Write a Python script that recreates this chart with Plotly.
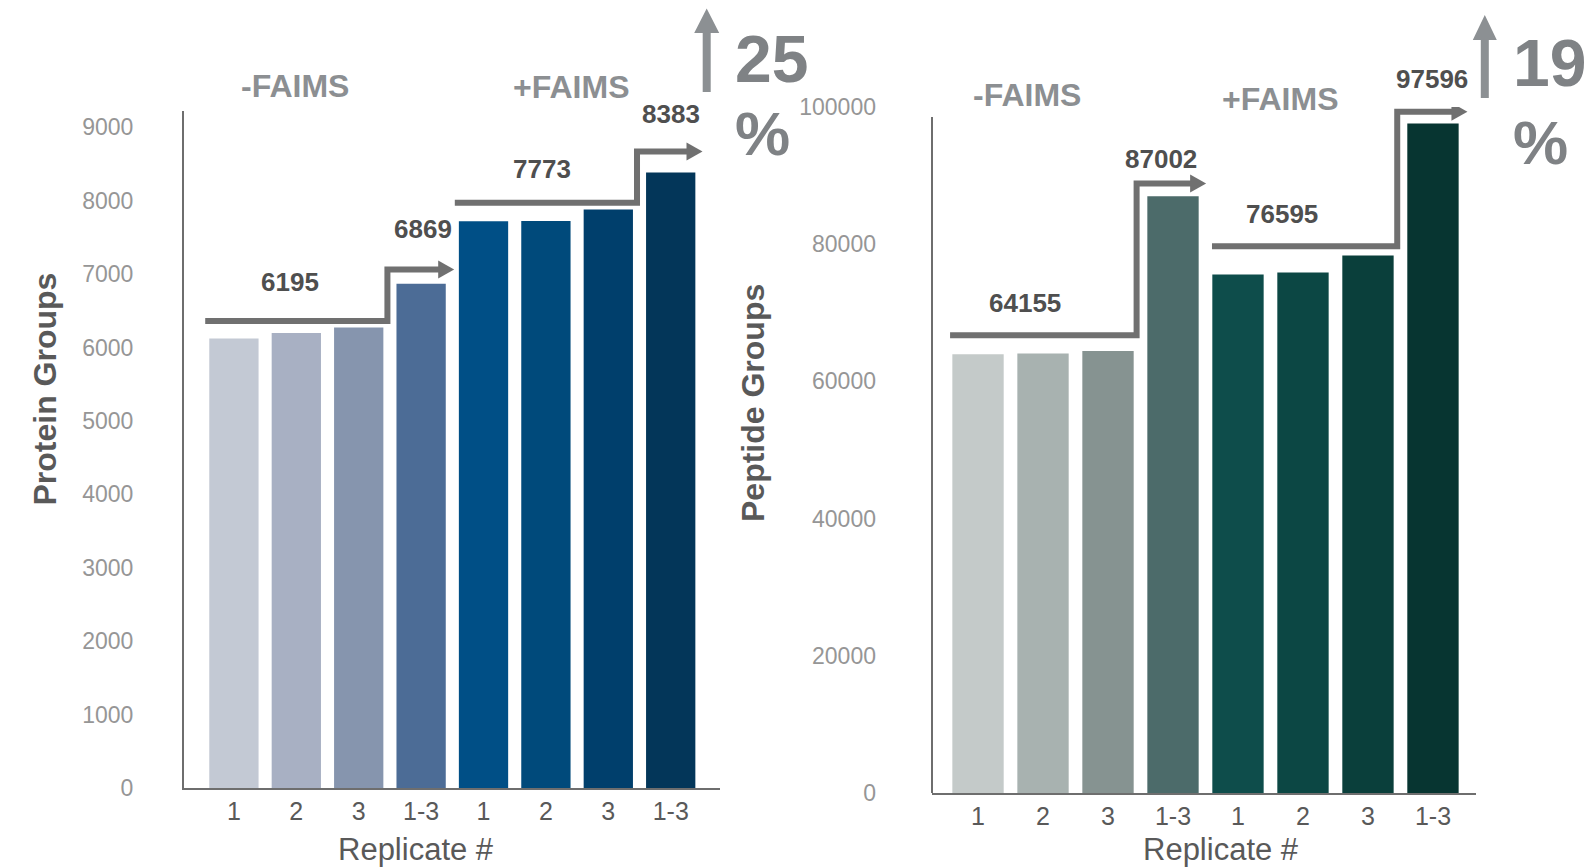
import plotly.graph_objects as go

# ---------------- data ----------------
tick_labels = ["1", "2", "3", "1-3", "1", "2", "3", "1-3"]
protein_groups = [6120, 6195, 6270, 6869, 7720, 7722, 7877, 8383]
peptide_groups = [63950, 64080, 64435, 87002, 75570, 75860, 78355, 97596]

protein_colors = ["#c3c9d4", "#a8b0c3", "#8695ae", "#4c6c96",
                  "#004f86", "#004a7b", "#003f6c", "#033659"]
peptide_colors = ["#c4cac9", "#a8b2b0", "#869391", "#4c6b6a",
                  "#0e4d4b", "#0c4744", "#0a3f3b", "#073531"]

protein_summary = ["6195", "6869", "7773", "8383"]
peptide_summary = ["64155", "87002", "76595", "97596"]
protein_increase = "25"
peptide_increase = "19"

# step-arrow levels (data units): [group level, raised level]
protein_steps = [(6360, 7060), (7970, 8670)]
peptide_steps = [(66725, 88840), (79710, 99316)]

W, H = 1585, 867
FONT = "Liberation Sans, Arial, sans-serif"
GREY_ARROW = "#707070"
AXIS = "#6e6e6e"


def px(x):
    return x / W


def py(y):
    return 1 - y / H


fig = go.Figure()
fig.add_trace(go.Bar(x=list(range(8)), y=protein_groups, marker=dict(color=protein_colors, line=dict(width=0)),
                     xaxis="x", yaxis="y", hoverinfo="y"))
fig.add_trace(go.Bar(x=list(range(8)), y=peptide_groups, marker=dict(color=peptide_colors, line=dict(width=0)),
                     xaxis="x2", yaxis="y2", hoverinfo="y"))

common_x = dict(tickvals=list(range(8)), ticktext=tick_labels, showline=True, linecolor=AXIS, linewidth=2,
                ticks="", showgrid=False, zeroline=False, automargin=False,
                tickfont=dict(family=FONT, size=25, color="#595959"), ticklabelstandoff=0, fixedrange=True)
common_y = dict(showgrid=False, zeroline=False, ticks="", automargin=False, tickformat="d",
                tickfont=dict(family=FONT, size=23, color="#969696"), fixedrange=True)

fig.update_layout(
    template="none",
    width=W, height=H, margin=dict(l=0, r=0, t=0, b=0, autoexpand=False),
    paper_bgcolor="white", plot_bgcolor="white", showlegend=False, bargap=0.21,
    xaxis=dict(domain=[px(184), px(720)], range=[-0.8, 7.79], anchor="y", **common_x),
    yaxis=dict(domain=[py(788), py(111)], range=[0, 9220], dtick=1000, anchor="x",
               showline=True, linecolor=AXIS, linewidth=2, ticklabelstandoff=44, **common_y),
    xaxis2=dict(domain=[px(932), px(1476)], range=[-0.708, 7.662], anchor="y2", **common_x),
    yaxis2=dict(domain=[py(793), py(107)], range=[0, 100000], dtick=20000, anchor="x2",
                showline=False, ticklabelstandoff=55, **common_y),
)

shapes = []
# right y axis line (stops below the top tick)
shapes.append(dict(type="line", xref="x2 domain", yref="y2", x0=0, x1=0, y0=0, y1=98540,
                   line=dict(color=AXIS, width=2)))


def step_arrow(xr, yr, starts, corners, tips, levels, ux, uy):
    # ux: px per x unit, uy: px per y unit
    hl = 16 / ux
    hh = 9 / uy
    for s, c, t, (lv, up) in zip(starts, corners, tips, levels):
        shapes.append(dict(type="path", xref=xr, yref=yr,
                           path=f"M {s},{lv} L {c},{lv} L {c},{up} L {t - hl + 0.02},{up}",
                           line=dict(color=GREY_ARROW, width=6)))
        shapes.append(dict(type="path", xref=xr, yref=yr,
                           path=f"M {t - hl},{up + hh} L {t},{up} L {t - hl},{up - hh} Z",
                           fillcolor=GREY_ARROW, line=dict(width=0)))


step_arrow("x", "y", [-0.46, 3.54], [2.46, 6.46], [3.53, 7.51], protein_steps, 62.4, 677 / 9220)
step_arrow("x2", "y2", [-0.43, 3.6], [2.44, 6.45], [3.51, 7.53], peptide_steps, 65.0, 686 / 100000)


def up_arrow(cx, bottom, head_base, tip, shaft_w, head_w, color="#8c9093"):
    sw, hw = shaft_w / 2, head_w / 2
    pts = [(cx - sw, bottom), (cx - sw, head_base), (cx - hw, head_base), (cx, tip),
           (cx + hw, head_base), (cx + sw, head_base), (cx + sw, bottom)]
    path = "M " + " L ".join(f"{px(a)},{py(b)}" for a, b in pts) + " Z"
    shapes.append(dict(type="path", xref="paper", yref="paper", path=path,
                       fillcolor=color, line=dict(width=0)))


up_arrow(706.7, 92, 33, 8.5, 8, 25)
up_arrow(1484.8, 98, 40, 15, 8, 24)

fig.update_layout(shapes=shapes)

ann = []


def text(x, y, s, size, color, bold=False, angle=0, xanchor="center"):
    ann.append(dict(x=px(x), y=py(y), xref="paper", yref="paper", text=s, showarrow=False,
                    xanchor=xanchor, yanchor="middle", textangle=angle,
                    font=dict(family=FONT, size=size, color=color, weight="bold" if bold else "normal")))


# axis titles
text(44.5, 389, "Protein Groups", 32, "#595959", bold=True, angle=-90)
text(753, 403, "Peptide Groups", 32, "#595959", bold=True, angle=-90)
text(415.5, 849, "Replicate #", 31, "#595959")
text(1221, 849, "Replicate #", 31, "#595959")

# group labels
text(295, 86, "-FAIMS", 32, "#8c8f92", bold=True)
text(571, 87, "+FAIMS", 32, "#8c8f92", bold=True)
text(1027, 94.5, "-FAIMS", 32, "#8c8f92", bold=True)
text(1280, 98.5, "+FAIMS", 32, "#8c8f92", bold=True)

# summary values
for (x, y), s in zip([(290, 282), (422.5, 229.5), (542, 169), (671, 114.5)], protein_summary):
    text(x, y, s, 26, "#4f4f4f", bold=True)
for (x, y), s in zip([(1025, 302.5), (1161, 159), (1282, 214), (1432, 78.5)], peptide_summary):
    text(x, y, s, 26, "#4f4f4f", bold=True)

# increase
text(733, 58.5, protein_increase, 66, "#7f8285", bold=True, xanchor="left")
text(733, 133, "%", 62, "#7f8285", bold=True, xanchor="left")
text(1511, 62.5, peptide_increase, 66, "#7f8285", bold=True, xanchor="left")
text(1511, 142, "%", 62, "#7f8285", bold=True, xanchor="left")

fig.update_layout(annotations=ann)

fig.write_html("out.html")
